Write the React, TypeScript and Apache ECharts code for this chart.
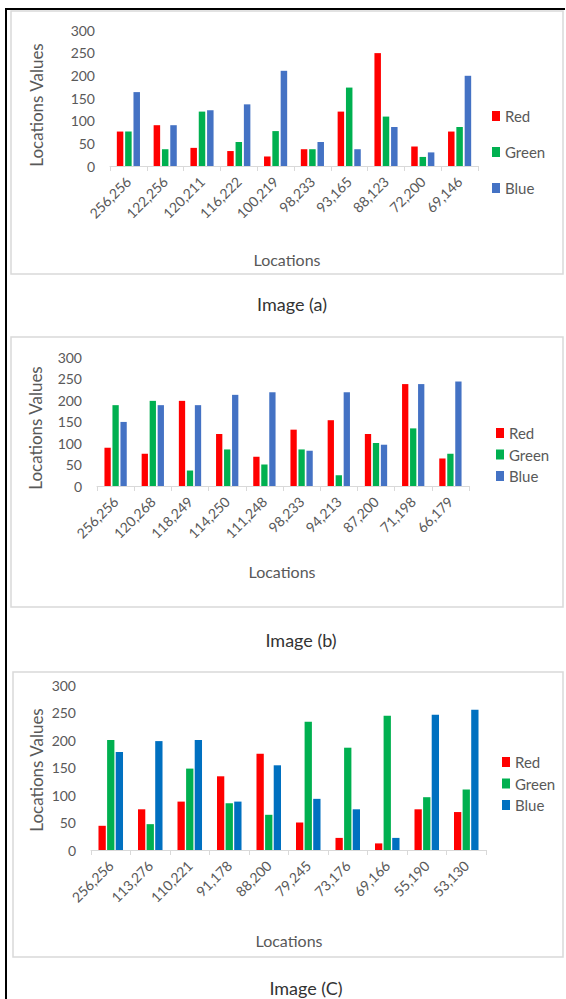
import React, { useEffect, useRef } from "react";
import * as echarts from "echarts";

const categoriesA = ["256,256", "122,256", "120,211", "116,222", "100,219", "98,233", "93,165", "88,123", "72,200", "69,146"];
const redA = [76, 90, 40, 33, 21, 37, 120, 249, 43, 76];
const greenA = [76, 37, 120, 53, 77, 37, 173, 109, 20, 86];
const blueA = [163, 90, 123, 136, 210, 53, 37, 86, 30, 199];

const categoriesB = ["256,256", "120,268", "118,249", "114,250", "111,248", "98,233", "94,213", "87,200", "71,198", "66,179"];
const redB = [89, 75, 198, 121, 68, 131, 153, 121, 237, 64];
const greenB = [188, 198, 36, 85, 50, 85, 25, 100, 134, 75];
const blueB = [149, 188, 188, 212, 218, 82, 218, 96, 237, 243];

const categoriesC = ["256,256", "113,276", "110,221", "91,178", "88,200", "79,245", "73,176", "69,166", "55,190", "53,130"];
const redC = [44, 74, 88, 134, 175, 50, 22, 12, 74, 69];
const greenC = [200, 47, 148, 85, 64, 233, 186, 244, 96, 110];
const blueC = [178, 198, 200, 88, 154, 93, 74, 22, 246, 255];

const seriesNames = ["Red", "Green", "Blue"];
const yTicks = { min: 0, max: 300, interval: 50 };
const captions = ["Image (a)", "Image (b)", "Image (C)"];
const xTitle = "Locations";
const yTitle = "Locations Values";

const FONT = "Lato, 'Open Sans', sans-serif";
const GRAY = "#595959";
const RED = "#FF0000";
const GREEN = "#00B050";
const BLUE_AB = "#4472C4";
const BLUE_C = "#0070C0";

const panels = [
  {
    cats: categoriesA, data: [redA, greenA, blueA], colors: [RED, GREEN, BLUE_AB],
    grid: { left: 110, top: 30, width: 368, height: 136 },
    barWidth: 6.5, barGap: "28%",
    legend: { left: 492, top: 108, itemGap: 20 },
    box: { x: 11, y: 11, w: 552, h: 263 },
    yTitle: { x: 36, y: 105 }, xTitle: { x: 287, y: 259 }, caption: { x: 292, y: 304 },
  },
  {
    cats: categoriesB, data: [redB, greenB, blueB], colors: [RED, GREEN, BLUE_AB],
    grid: { left: 97, top: 357, width: 372, height: 129 },
    barWidth: 6.3, barGap: "27%",
    legend: { left: 496, top: 425, itemGap: 5.5 },
    box: { x: 11, y: 337, w: 552, h: 270 },
    yTitle: { x: 35, y: 428 }, xTitle: { x: 282, y: 571 }, caption: { x: 301, y: 640 },
  },
  {
    cats: categoriesC, data: [redC, greenC, blueC], colors: [RED, GREEN, BLUE_C],
    grid: { left: 91, top: 685, width: 395, height: 165 },
    barWidth: 7.3, barGap: "18%",
    legend: { left: 502, top: 754, itemGap: 5.5 },
    box: { x: 13, y: 672, w: 550, h: 285 },
    yTitle: { x: 36, y: 770 }, xTitle: { x: 289, y: 940 }, caption: { x: 306, y: 988 },
  },
];

export default function App() {
  const ref = useRef<HTMLDivElement>(null);
  useEffect(() => {
    if (!ref.current) return;
    const chart = echarts.init(ref.current, null, { renderer: "svg" });

    const grids: any[] = [];
    const xAxes: any[] = [];
    const yAxes: any[] = [];
    const series: any[] = [];
    const legends: any[] = [];
    const graphics: any[] = [];

    panels.forEach((p, i) => {
      grids.push({ ...p.grid, containLabel: false });
      xAxes.push({
        type: "category",
        gridIndex: i,
        data: p.cats,
        boundaryGap: true,
        axisLine: { show: true, lineStyle: { color: "#D9D9D9", width: 1 } },
        axisTick: { show: true, length: 5, lineStyle: { color: "#D9D9D9" } },
        axisLabel: { rotate: 45, margin: 13, color: GRAY, fontSize: 14, fontFamily: FONT, interval: 0 },
      });
      yAxes.push({
        type: "value",
        gridIndex: i,
        min: yTicks.min,
        max: yTicks.max,
        interval: yTicks.interval,
        axisLine: { show: false },
        axisTick: { show: false },
        splitLine: { show: false },
        axisLabel: { color: GRAY, fontSize: 14, fontFamily: FONT, margin: 15 },
      });
      seriesNames.forEach((name, k) => {
        series.push({
          type: "bar",
          name,
          xAxisIndex: i,
          yAxisIndex: i,
          data: p.data[k],
          barWidth: p.barWidth,
          barGap: p.barGap,
          itemStyle: { color: p.colors[k] },
        });
      });
      legends.push({
        orient: "vertical",
        left: p.legend.left,
        top: p.legend.top,
        itemGap: p.legend.itemGap,
        itemWidth: 8,
        itemHeight: 10,
        icon: "rect",
        selectedMode: false,
        padding: 0,
        textStyle: { color: GRAY, fontSize: 15, fontFamily: FONT, lineHeight: 16 },
        data: seriesNames.map((n, k) => ({ name: n, itemStyle: { color: p.colors[k] } })),
      });
      graphics.push({
        type: "rect",
        shape: { x: p.box.x, y: p.box.y, width: p.box.w, height: p.box.h },
        style: { fill: "none", stroke: "#D9D9D9", lineWidth: 1.5 },
        z: -1,
      });
      graphics.push({
        type: "text",
        x: p.yTitle.x,
        y: p.yTitle.y,
        rotation: Math.PI / 2,
        style: { text: yTitle, align: "center", verticalAlign: "middle", fill: GRAY, fontSize: 17, fontFamily: FONT },
      });
      graphics.push({
        type: "text",
        x: p.xTitle.x,
        y: p.xTitle.y,
        style: { text: xTitle, align: "center", verticalAlign: "middle", fill: GRAY, fontSize: 16, fontFamily: FONT },
      });
      graphics.push({
        type: "text",
        x: p.caption.x,
        y: p.caption.y,
        style: { text: captions[i], align: "center", verticalAlign: "middle", fill: "#333333", fontSize: 18, fontFamily: FONT, fontWeight: "normal" },
      });
    });

    graphics.push({
      type: "line",
      shape: { x1: 5, y1: 9, x2: 565, y2: 9 },
      style: { stroke: "#000000", lineWidth: 2 },
    });
    graphics.push({
      type: "line",
      shape: { x1: 6, y1: 8, x2: 6, y2: 999 },
      style: { stroke: "#000000", lineWidth: 2 },
    });

    chart.setOption({
      animation: false,
      backgroundColor: "#FFFFFF",
      grid: grids,
      xAxis: xAxes,
      yAxis: yAxes,
      series,
      legend: legends,
      graphic: graphics,
    });
    return () => chart.dispose();
  }, []);

  return (
    <div
      ref={ref}
      style={{ position: "absolute", left: 0, top: 0, width: 566, height: 999 }}
    />
  );
}
